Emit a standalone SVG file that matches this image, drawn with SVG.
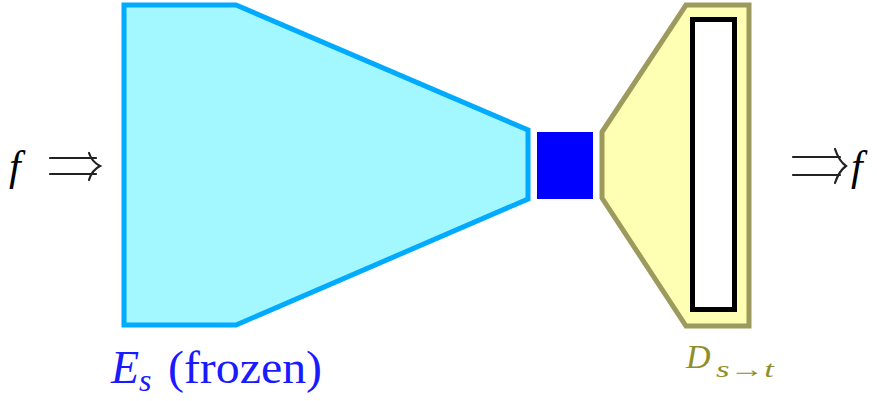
<svg xmlns="http://www.w3.org/2000/svg" width="877" height="401" viewBox="0 0 877 401">
<style>
.enc{fill:#a3f7ff;stroke:#00aaff;stroke-width:5;stroke-linejoin:miter}
.lat{fill:#0000ff}
.dec{fill:#ffffb3;stroke:#9c9a5c;stroke-width:5}
.inner{fill:#ffffff;stroke:#000000;stroke-width:5}
.arr{fill:none;stroke:#222222;stroke-width:2.2;stroke-linecap:round}
.mi{font-family:"Liberation Serif",serif;font-style:italic}
.rm{font-family:"Liberation Serif",serif}
</style>
<rect width="877" height="401" fill="#ffffff"/>
<g id="encoder">
<polygon class="enc" points="124,5 236,5 528,130 528,199 236,325 124,325"/>
</g>
<g id="latent">
<rect class="lat" x="537" y="132" width="56" height="67"/>
</g>
<g id="decoder">
<polygon class="dec" points="602,132 686,5 749,5 749,326 686,326 602,198"/>
<rect class="inner" x="692.5" y="19.5" width="42" height="290"/>
</g>
<g id="input">
<text class="mi" x="9" y="180" font-size="42">f</text>
</g>
<g id="output">
<text class="mi" x="851" y="180" font-size="42">f</text>
</g>
<g id="connectors">
<path class="arr" d="M50,158 H96 M50,174 H96 M89,153 Q92,162 100,166 Q92,170 89,180"/>
<path class="arr" d="M793,157 H840 M793,175 H840 M835,149 Q839,161 846,166 Q839,171 835,183"/>
</g>
<g id="labels">
<text x="111" y="383" fill="#1a1aff"><tspan class="mi" font-size="46">E</tspan><tspan class="mi" font-size="32" dy="8">s</tspan><tspan class="rm" font-size="46" dy="-8" x="168" textLength="154" lengthAdjust="spacingAndGlyphs">(frozen)</tspan></text>
<text x="686" y="368" fill="#8f8f2a"><tspan class="mi" font-size="34">D</tspan><tspan class="mi" font-size="24" dy="9" x="716" textLength="58" lengthAdjust="spacingAndGlyphs">s→t</tspan></text>
</g>
</svg>
